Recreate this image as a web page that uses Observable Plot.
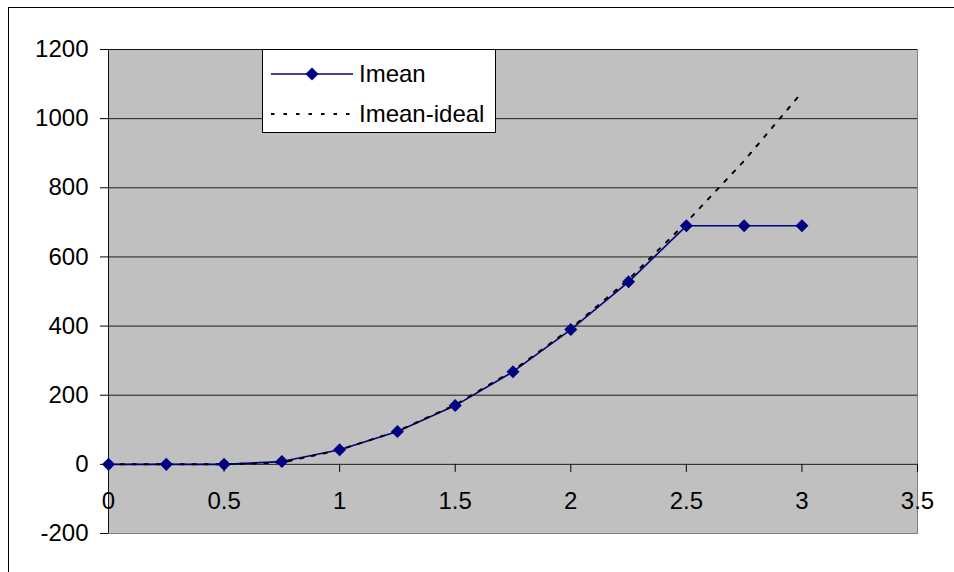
<!DOCTYPE html>
<html>
<head>
<meta charset="utf-8">
<script src="https://cdn.jsdelivr.net/npm/d3@7"></script>
<script src="https://cdn.jsdelivr.net/npm/@observablehq/plot@0.6"></script>
<style>
  html, body { margin: 0; padding: 0; background: #fff; overflow: hidden; width: 954px; height: 572px; }
  #wrap { position: relative; width: 954px; height: 572px; font-family: "Liberation Sans", Arial, sans-serif; }
  #outer { position: absolute; left: 8px; top: 7px; width: 2000px; height: 2000px; border: 1px solid #000; box-sizing: border-box; pointer-events: none; }
  #chart { position: absolute; left: 0; top: 0; }
  #legend { position: absolute; left: 262px; top: 49px; width: 234px; height: 84px; background: #fff; border: 1px solid #000; box-sizing: border-box; }
  .row { position: absolute; left: 8px; height: 30px; display: flex; align-items: center; font-size: 24px; color: #000; }
  .row svg { margin-right: 6px; }
</style>
</head>
<body>
<div id="wrap">
  <div id="outer"></div>
  <div id="chart"></div>
  <div id="legend">
    <div class="row" style="top:9px">
      <svg width="82" height="16"><line x1="0" y1="8" x2="82" y2="8" stroke="#000080" stroke-width="1.5"/><path d="M41,1.5 L47.5,8 L41,14.5 L34.5,8 Z" fill="#000080"/></svg>
      <span>Imean</span>
    </div>
    <div class="row" style="top:49px">
      <svg width="82" height="16"><line x1="0" y1="8" x2="82" y2="8" stroke="#000" stroke-width="2" stroke-dasharray="3.5,9"/></svg>
      <span>Imean-ideal</span>
    </div>
  </div>
</div>
<script>
const xValues = [0, 0.25, 0.5, 0.75, 1, 1.25, 1.5, 1.75, 2, 2.25, 2.5, 2.75, 3];
const imean = [0, 0, 0, 8, 42, 95, 170, 268, 390, 528, 690, 690, 690];
const imeanIdeal = [0, 0, 0, 5, 42, 96, 172, 271, 393, 535, 700, 878, 1076];
const yTicks = [-200, 0, 200, 400, 600, 800, 1000, 1200];
const xTicks = [0, 0.5, 1, 1.5, 2, 2.5, 3, 3.5];

const dataMean = xValues.map((x, i) => ({x, y: imean[i]}));
const dataIdeal = xValues.map((x, i) => ({x, y: imeanIdeal[i]}));

const font = "'Liberation Sans', Arial, sans-serif";

const chart = Plot.plot({
  width: 954,
  height: 572,
  marginLeft: 108,
  marginRight: 37,
  marginTop: 49,
  marginBottom: 39,
  style: {fontFamily: font, fontSize: "24px", background: "transparent", color: "#000"},
  x: {domain: [0, 3.5], axis: null},
  y: {domain: [-200, 1200], axis: null},
  marks: [
    Plot.frame({fill: "#c0c0c0", stroke: "#808080"}),
    Plot.ruleY(yTicks.filter(v => v > -200), {stroke: "#000", strokeWidth: 1, strokeOpacity: 0.85}),
    Plot.ruleX([0], {stroke: "#000", strokeOpacity: 0.85}),
    Plot.axisY({ticks: yTicks, tickSize: 8, tickPadding: 12, fontSize: 24, tickFormat: d => String(d), label: null}),
    Plot.ruleX(xTicks, {x: d => d, y1: 0, y2: 0, insetBottom: -8, stroke: "#000"}),
    Plot.text(xTicks, {x: d => d, y: 0, dy: 37, text: d => String(d), fontSize: 24, fill: "#000"}),
    Plot.line(dataMean, {x: "x", y: "y", stroke: "#000080", strokeWidth: 1.6}),
    Plot.line(dataIdeal, {x: "x", y: "y", stroke: "#000", strokeWidth: 2, strokeDasharray: "3.5,8.5"}),
    Plot.dot(dataMean, {x: "x", y: "y", symbol: "square", r: 5.2, rotate: 45, fill: "#000080", stroke: "none"})
  ]
});
document.getElementById("chart").appendChild(chart);
</script>
</body>
</html>
